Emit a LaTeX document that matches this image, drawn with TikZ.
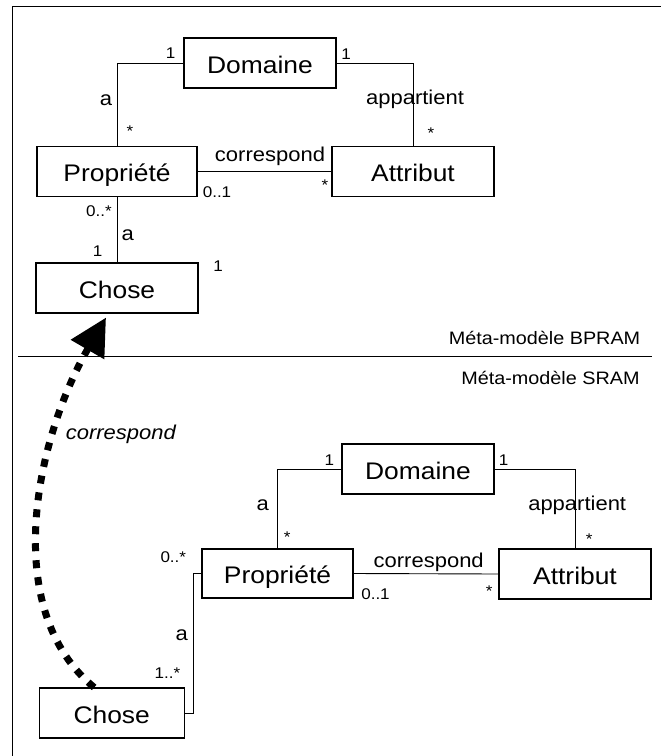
\documentclass[tikz,border=0pt]{standalone}
\usepackage{fontspec}
\setmainfont[FakeStretch=1.1]{Liberation Sans}
\usetikzlibrary{arrows.meta}

\begin{document}
\begin{tikzpicture}[x = 1pt, y = -1pt, line width = 0.9pt,
	classe/.style = {draw, line width = 1.1pt, inner sep = 0pt, minimum height = 50pt,
		text height = 20pt, text depth = 0pt, font = \fontsize{24}{28}\selectfont},
	mult/.style = {inner sep = 0pt, anchor = base, font = \fontsize{15.5}{17}\selectfont},
	role/.style = {inner sep = 0pt, anchor = base, font = \fontsize{20}{24}\selectfont},
	zone/.style = {inner sep = 0pt, anchor = base east, font = \fontsize{18}{22}\selectfont},
	corr/.style = {line width = 7pt, dash pattern = on 8pt off 9pt,
		-{Triangle[length = 37pt, width = 37pt]}}]

	% The page and its frame
	
	\useasboundingbox (0, 0) rectangle (661, 756);
	\draw (661, 6) -- (12.3, 6) -- (12.3, 756);
	
	% Meta-model BPRAM
	
	\node [classe, minimum width = 152pt] (domaine1) at (260, 63) {Domaine};
	\node [classe, minimum width = 160pt] (propriete1) at (117, 171.5) {Propriété};
	\node [classe, minimum width = 162pt] (attribut1) at (413, 171.5) {Attribut};
	\node [classe, minimum width = 162pt] (chose1) at (117, 288) {Chose};
	
	\draw (domaine1.west) -| (propriete1.north);
	\draw (domaine1.east) -| (attribut1.north);
	\draw (propriete1.east) -- (attribut1.west);
	\draw (propriete1.south) -- (chose1.north);
	
	\node [mult] (m1a) at (170.7, 58) {1};
	\node [role] (r1a) at (106, 105) {a};
	\node [mult] (m1b) at (130, 136) {*};
	\node [mult] (m1c) at (346, 59) {1};
	\node [role] (r1b) at (415, 104.3) {appartient};
	\node [mult] (m1d) at (431, 138) {*};
	\node [role] (r1c) at (270, 161.7) {correspond};
	\node [mult] (m1e) at (217, 197) {0..1};
	\node [mult] (m1f) at (325, 190.7) {*};
	\node [mult] (m1g) at (99, 216.7) {0..*};
	\node [role] (r1d) at (127.7, 240) {a};
	\node [mult] (m1h) at (97.7, 256) {1};
	\node [mult] (m1i) at (218, 271.7) {1};
	
	% The border between the two meta-models
	
	\draw (18, 356) -- (652, 356);
	\node [zone] (z1) at (640.7, 344) {Méta-modèle BPRAM};
	\node [zone] (z2) at (640, 384) {Méta-modèle SRAM};
	
	% Meta-model SRAM
	
	\node [classe, minimum width = 152pt] (domaine2) at (418, 469) {Domaine};
	\node [classe, minimum width = 151pt, minimum height = 49pt] (propriete2) at (277.5, 573.5) {Propriété};
	\node [classe, minimum width = 152pt] (attribut2) at (575, 574) {Attribut};
	\node [classe, minimum width = 145pt] (chose2) at (111.7, 713) {Chose};
	
	\draw (domaine2.west) -| (propriete2.north);
	\draw (domaine2.east) -| (attribut2.north);
	\draw (propriete2.east) -- (attribut2.west);
	\draw (propriete2.west) -| ([xshift = 9pt] chose2.east) -- (chose2.east);
	
	\node [mult] (m2a) at (329.3, 465) {1};
	\node [role] (r2a) at (262.7, 510) {a};
	\node [mult] (m2b) at (287.3, 542) {*};
	\node [mult] (m2c) at (503.5, 465) {1};
	\node [role] (r2b) at (577.2, 510.7) {appartient};
	\node [mult] (m2d) at (589.3, 544) {*};
	\node [role] (r2c) at (428.7, 567.3) {correspond};
	\node [mult] (m2e) at (375.5, 599.3) {0..1};
	\node [mult] (m2f) at (489.3, 596) {*};
	\node [mult] (m2g) at (173.3, 562.7) {0..*};
	\node [role] (r2d) at (181.7, 640) {a};
	\node [mult] (m2h) at (167.5, 678.3) {1..*};
	
	% Correspondence between the two meta-models
	
	\draw [corr] ([xshift = -17.5pt] chose2.north)
		.. controls (0, 610) and (35, 440) .. ([xshift = -11pt, yshift = -4pt] chose1.south);
	\node [role, font = \fontsize{20}{24}\selectfont\itshape] (r3) at (120.8, 439.3) {correspond};
		
\end{tikzpicture}
\end{document}
